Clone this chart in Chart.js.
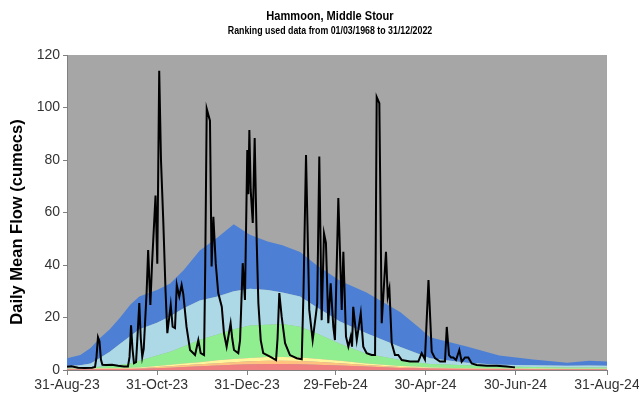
<!DOCTYPE html>
<html>
<head>
<meta charset="utf-8">
<script src="https://cdn.jsdelivr.net/npm/chart.js@4.4.1/dist/chart.umd.min.js"></script>
<style>
  html, body { margin: 0; padding: 0; background: #ffffff; }
  #wrap { width: 639px; height: 399px; position: relative; }
</style>
</head>
<body>
<div id="wrap"><canvas id="chart" width="639" height="399"></canvas></div>
<script>
// Axis ticks: day offsets from 31-Aug-23 and their labels
const tickDays = [0, 61, 122, 182, 243, 304, 366];
const tickLabels = ["31-Aug-23", "31-Oct-23", "31-Dec-23", "29-Feb-24", "30-Apr-24", "30-Jun-24", "31-Aug-24"];

// Ranking bands (upper bound of each band, cumecs) sampled at these days
const bandDays   = [0, 9, 16, 22, 29, 36, 43, 49, 61, 70, 79, 90, 102, 113, 124, 136, 146, 158, 169, 185, 203, 226, 239, 246, 271, 293, 316, 339, 354, 366];
const bandRed    = [0.3, 0.3, 0.3, 0.35, 0.35, 0.4, 0.4, 0.45, 0.7, 0.9, 1.1, 1.4, 1.7, 2, 2.2, 2.3, 2.3, 2.2, 2, 1.7, 1.3, 0.8, 0.65, 0.55, 0.4, 0.35, 0.3, 0.3, 0.3, 0.3];
const bandOrange = [0.45, 0.45, 0.5, 0.5, 0.55, 0.6, 0.6, 0.7, 1.1, 1.4, 1.8, 2.2, 2.6, 3, 3.3, 3.5, 3.5, 3.4, 3.1, 2.6, 1.9, 1.1, 0.9, 0.8, 0.55, 0.45, 0.4, 0.4, 0.4, 0.4];
const bandYellow = [0.6, 0.6, 0.65, 0.7, 0.75, 0.8, 0.85, 1, 1.5, 2, 2.5, 3, 3.7, 4.2, 4.6, 5, 5, 4.8, 4.3, 3.5, 2.5, 1.5, 1.2, 1, 0.7, 0.6, 0.55, 0.5, 0.5, 0.5];
const bandGreen  = [0.8, 0.9, 1, 1.2, 1.5, 2, 2.5, 3.5, 5.5, 7, 9, 11.5, 13.5, 15.5, 17, 17.2, 17.5, 16.5, 14, 10, 6.2, 3.8, 2.8, 2.3, 1.8, 1.3, 1.1, 1, 1, 1];
const bandLight  = [1.5, 1.8, 2.5, 4.5, 7, 10, 13, 15.5, 18, 20.5, 23.5, 26.5, 28, 30, 31, 30.5, 29.5, 28, 24, 18.5, 14, 8.8, 6, 4.5, 2.8, 2, 1.8, 1.6, 1.7, 1.6];
const bandBlue   = [4.5, 5.7, 8.4, 12, 15.5, 20, 25, 28, 30.5, 33, 38, 45.5, 50.5, 55.5, 51.5, 49, 47.5, 45, 40, 34, 29.5, 22, 16, 12.5, 9, 5.5, 4, 2.8, 3.5, 3.2];

// Daily mean flow (cumecs) at day offsets
const flowDays = [
  0, 3, 7.5, 12, 17, 19, 20, 21, 22, 23, 24, 26.4, 30.5, 34.6, 38.6, 41.3, 42.4, 43.4, 44.4, 45.4,
  46.8, 48, 49, 50, 51, 52, 54, 55, 56.5, 57.6, 60, 61.2, 62.5, 63.7, 65.3, 66.8, 68, 70.3, 71.6, 73.2,
  74.4, 76.1, 77.7, 78.8, 81, 83.4, 86.8, 89, 90.6, 92.9, 93.7, 94.7, 95.9, 96.9, 98, 99.2, 100.8, 102.5, 104.9, 106.4,
  108.2, 110.9, 112, 113.2, 116.1, 117.3, 119.1, 120.6, 122.2, 122.9, 123.6, 124.5, 125.9, 127.2, 128.6, 129.7, 131.3, 133, 137.6, 141.7,
  142.7, 143.9, 145.5, 147.8, 151.1, 155.7, 159.1, 160.3, 162, 164.2, 166.5, 168.8, 169.6, 171, 172.6, 174.2, 175.5, 177.1, 178.7, 180.5,
  181.6, 183.9, 186.2, 187.3, 189.1, 190.7, 192.3, 193.2, 194, 195.2, 196.4, 199.1, 200.8, 203.1, 206.5, 208.8, 209.9, 211.7, 213.3, 214.9,
  216.2, 217.4, 218.5, 220.1, 222.3, 224.5, 226.9, 232.5, 238.1, 240.4, 242.6, 245, 247.2, 249.4, 252.8, 256.2, 257.4, 258.9, 260.3, 261.8,
  263.7, 265.9, 267.5, 269.8, 272, 274.3, 277.7, 284.5, 291.2, 298, 303.6
];
const flowValues = [
  1.2, 1.4, 0.9, 0.8, 0.9, 1.2, 5, 12.5, 11, 4, 2, 1.9, 2, 1.6, 1.3, 1.3, 5, 17, 8, 2.6,
  3, 15, 25.5, 12, 5, 8, 30, 45.7, 24.8, 40, 66.5, 40.5, 114, 80, 56, 30, 14, 24.8, 16.5, 16,
  32.4, 28, 32.4, 29, 16.5, 7.6, 5.7, 11.4, 6.4, 5.7, 40, 99.5, 97, 95, 39.4, 58.4, 40.7, 29.3, 24.1, 14,
  8.9, 17.8, 12, 7.6, 6.4, 11.4, 40.7, 26.7, 83.8, 67, 91.4, 68.6, 56, 88.4, 48.4, 25.5, 11.4, 6.4, 5.1, 3.8,
  12, 29.3, 20.3, 10.2, 5.7, 4.5, 4.1, 30, 81.9, 22.9, 11.4, 21.6, 25.5, 81.3, 19, 52, 48.4, 17.8, 33, 16.5,
  11.4, 65.5, 22.9, 45, 12.7, 8.9, 12.7, 8.9, 24.1, 17.8, 11.4, 21.6, 8.9, 6.4, 5.7, 5.7, 104, 101.6, 17.8, 33,
  45, 28, 31, 10.2, 5.7, 5.7, 3.8, 3.2, 3.2, 6.4, 4, 34.3, 7, 4.5, 3.2, 3.2, 16.4, 5.7, 4.8, 4.8,
  3.8, 7.6, 3.2, 4.8, 4.8, 2.5, 1.9, 1.6, 1.6, 1.3, 1.0
];

const titleText = "Hammoon, Middle Stour";
const subtitleText = "Ranking used data from 01/03/1968 to 31/12/2022";
const yTitleText = "Daily Mean Flow (cumecs)";

const FONT = "'Liberation Sans', Arial, sans-serif";

function pts(xs, ys) { return xs.map((x, i) => ({ x: x, y: ys[i] })); }

function band(label, values, color, fill) {
  return {
    label: label,
    data: pts(bandDays, values),
    backgroundColor: color,
    borderWidth: 0,
    pointRadius: 0,
    fill: fill,
    tension: 0,
    order: 1
  };
}

// Grey plot background plus white page
const backdrop = {
  id: 'backdrop',
  beforeDraw(chart) {
    const { ctx, chartArea: a } = chart;
    ctx.save();
    ctx.fillStyle = '#ffffff';
    ctx.fillRect(0, 0, chart.width, chart.height);
    ctx.fillStyle = '#a6a6a6';
    ctx.fillRect(a.left, a.top, a.right - a.left, a.bottom - a.top);
    ctx.restore();
  }
};

// Titles and the rotated y-axis title
const headings = {
  id: 'headings',
  afterDraw(chart) {
    const ctx = chart.ctx;
    ctx.save();
    ctx.fillStyle = '#000000';
    ctx.textAlign = 'center';
    ctx.textBaseline = 'middle';

    ctx.save();
    ctx.translate(330, 16);
    ctx.scale(0.82, 1);
    ctx.font = "bold 13.5px " + FONT;
    ctx.fillText(titleText, 0, 0);
    ctx.restore();

    ctx.save();
    ctx.translate(330, 31);
    ctx.scale(0.84, 1);
    ctx.font = "bold 10.5px " + FONT;
    ctx.fillText(subtitleText, 0, 0);
    ctx.restore();

    ctx.save();
    ctx.translate(17, 222);
    ctx.rotate(-Math.PI / 2);
    ctx.font = "bold 16.5px " + FONT;
    ctx.fillText(yTitleText, 0, 0);
    ctx.restore();

    ctx.restore();
  }
};

new Chart(document.getElementById('chart'), {
  type: 'line',
  data: {
    datasets: [
      band('Exceptionally low', bandRed, '#f08080', 'origin'),
      band('Notably low', bandOrange, '#ffc27f', '-1'),
      band('Below normal', bandYellow, '#fff59a', '-1'),
      band('Normal', bandGreen, '#90ee90', '-1'),
      band('Above normal', bandLight, '#add8e6', '-1'),
      band('Notably high', bandBlue, '#4d80d4', '-1'),
      {
        label: 'Daily mean flow',
        data: pts(flowDays, flowValues),
        borderColor: '#000000',
        borderWidth: 2,
        pointRadius: 0,
        fill: false,
        tension: 0,
        order: -1
      }
    ]
  },
  options: {
    responsive: false,
    animation: false,
    devicePixelRatio: 1,
    layout: { padding: { top: 55, right: 32, bottom: 0, left: 0 } },
    plugins: {
      legend: { display: false },
      title: { display: false },
      tooltip: { enabled: false }
    },
    scales: {
      x: {
        type: 'linear',
        min: 0,
        max: 366,
        afterBuildTicks(scale) { scale.ticks = tickDays.map(v => ({ value: v })); },
        afterFit(scale) { scale.height = 29; scale.paddingLeft = 0; scale.paddingRight = 0; },
        ticks: {
          autoSkip: false,
          maxRotation: 0,
          padding: 2,
          color: '#333333',
          font: { family: FONT, size: 14 },
          callback: (v) => { const i = tickDays.indexOf(v); return i >= 0 ? tickLabels[i] : ''; }
        },
        grid: { drawOnChartArea: false, drawTicks: true, tickLength: 5, color: '#808080' },
        border: { display: true, color: '#808080', width: 1 }
      },
      y: {
        min: 0,
        max: 120,
        afterFit(scale) { scale.width = 67; scale.paddingTop = 0; scale.paddingBottom = 0; },
        ticks: {
          stepSize: 20,
          padding: 3,
          color: '#333333',
          font: { family: FONT, size: 14 }
        },
        grid: { drawOnChartArea: false, drawTicks: true, tickLength: 4, color: '#808080' },
        border: { display: true, color: '#808080', width: 1 }
      }
    }
  },
  plugins: [backdrop, headings]
});
</script>
</body>
</html>
